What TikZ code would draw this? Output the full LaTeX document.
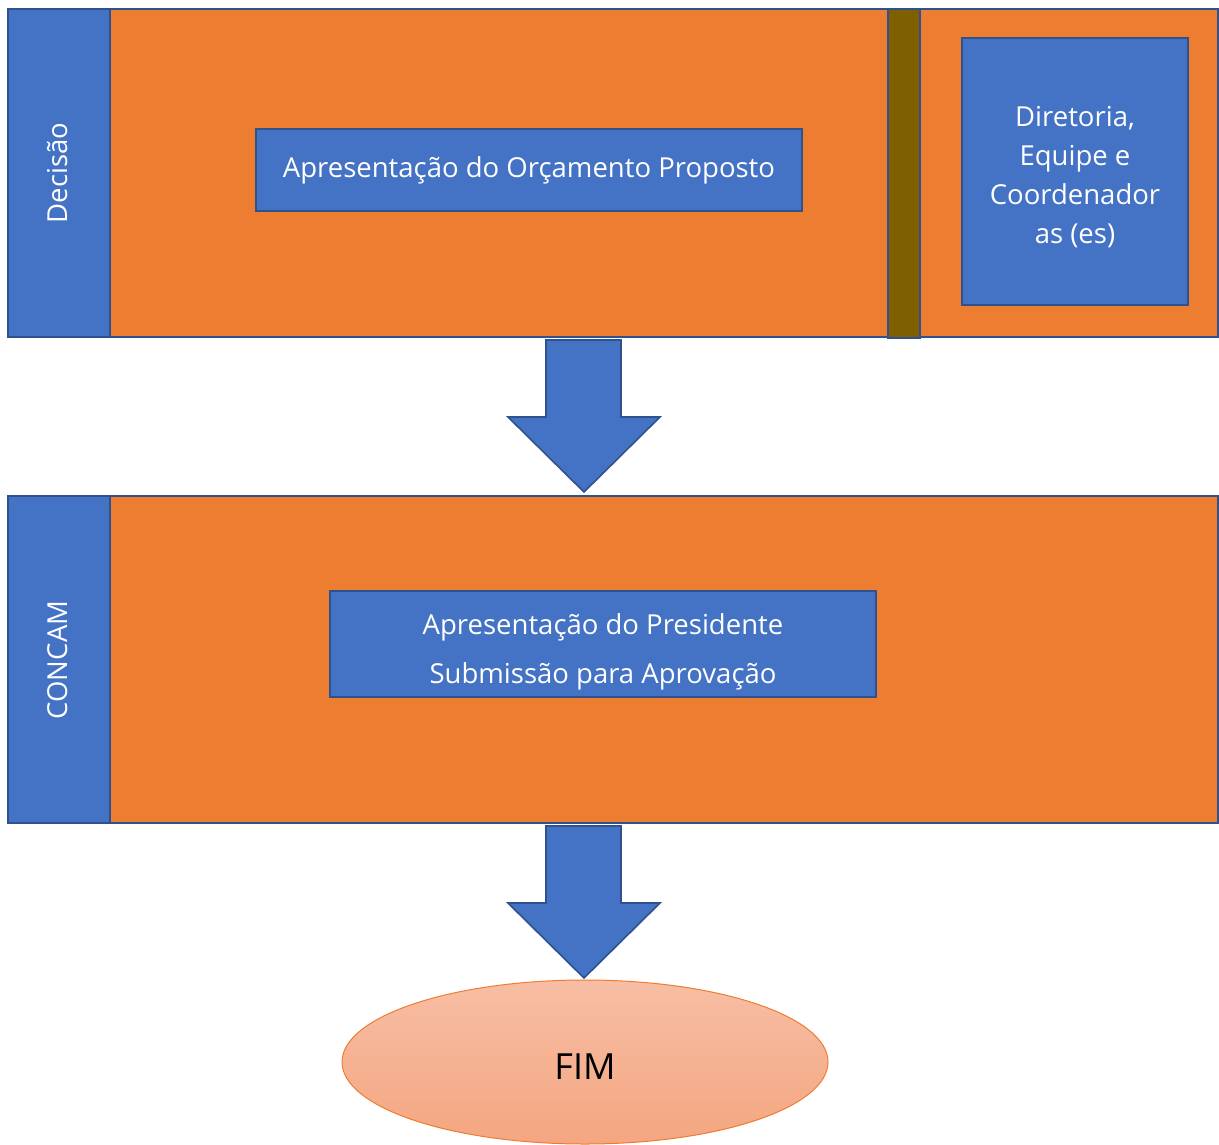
\documentclass[tikz,border=0pt]{standalone}
\usepackage{fontspec}
\setmainfont{Open Sans}
\usetikzlibrary{shapes.geometric}
\definecolor{cblue}{HTML}{4472C4}
\definecolor{cdark}{HTML}{2F528F}
\definecolor{corange}{HTML}{ED7D31}
\definecolor{cbrown}{HTML}{7F6000}
\definecolor{cfimtop}{HTML}{F7BEA5}
\definecolor{cfimbot}{HTML}{F4A680}
\tikzset{
  box/.style={draw=cdark, line width=1.6pt, inner sep=0pt, outer sep=0pt},
  lanebody/.style={box, fill=corange},
  lanehead/.style={text=white, rotate=90, font=\fontsize{27.5}{32}\selectfont},
  task/.style={box, fill=cblue, text=white, align=center, font=\fontsize{27.5}{32}\selectfont},
  blockarrow/.style={draw=cdark, line width=1.6pt, fill=cblue, line join=miter},
}
\begin{document}
\begin{tikzpicture}[x=1pt,y=-1pt]
\useasboundingbox (0,0) rectangle (1219,1144);
% lane 1
\path[lanebody] (8,9) rectangle (1218,337);
\path[box, fill=cblue] (8,9) rectangle (110,337);
\node[lanehead] (decisao) at (58,173) {Decisão};
\path[box, fill=cbrown] (888,9) rectangle (920,338);
\node[task, minimum width=226pt, minimum height=267pt] (diret) at (1075,171.5) {};
\node[text=white, align=center, font=\fontsize{27.5}{39}\selectfont] (direttxt) at (1075,177) {Diretoria,\\Equipe e\\Coordenador\\as (es)};
\node[task, minimum width=546pt, minimum height=82pt] (orc) at (529,170) {Apresentação do Orçamento Proposto};
% arrow 1
\path[blockarrow] (546,340) -- (621,340) -- (621,417) -- (660,417) -- (584,492) -- (508,417) -- (546,417) -- cycle;
% lane 2
\path[lanebody] (8,496) rectangle (1218,823);
\path[box, fill=cblue] (8,496) rectangle (110,823);
\node[lanehead] (concam) at (58,660) {CONCAM};
\node[task, minimum width=546pt, minimum height=106pt] (pres) at (603,644) {};
\node[text=white, align=center, font=\fontsize{27.5}{49}\selectfont] (prestxt) at (603,652) {Apresentação do Presidente\\Submissão para Aprovação};
% arrow 2
\path[blockarrow] (546,826) -- (621,826) -- (621,903) -- (660,903) -- (584,978) -- (508,903) -- (546,903) -- cycle;
% end
\node[ellipse, draw=corange, line width=1pt, top color=cfimtop, bottom color=cfimbot, minimum width=486pt, minimum height=164pt, inner sep=0pt] (fim) at (585,1062) {};
\node[font=\fontsize{36}{40}\selectfont, text=black] (fimtxt) at (585,1067) {FIM};
\end{tikzpicture}
\end{document}
